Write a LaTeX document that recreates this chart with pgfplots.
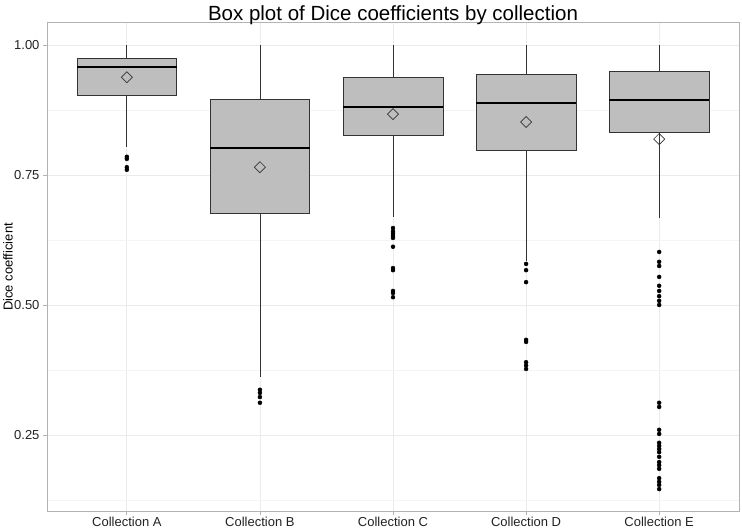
\documentclass[border=0pt]{standalone}
\usepackage{pgfplots}
\pgfplotsset{compat=1.18}
\usepgfplotslibrary{statistics}
\usepackage{fontspec}
\setmainfont{Liberation Sans}
\definecolor{boxgrey}{HTML}{BEBEBE}
\definecolor{edge}{HTML}{333333}
\definecolor{gridc}{HTML}{EBEBEB}
\definecolor{gridm}{HTML}{F4F4F4}
\definecolor{frame}{HTML}{B3B3B3}
\definecolor{txt}{HTML}{222222}
\begin{document}
\begin{tikzpicture}[x=1pt,y=1pt]
\begin{axis}[
  at={(0,0)}, anchor=south west,
  scale only axis, width=692pt, height=488.5pt,
  xmin=0.4, xmax=5.6, ymin=0.1033, ymax=1.0427,
  xtick={1,2,3,4,5},
  xticklabels={Collection A,Collection B,Collection C,Collection D,Collection E},
  ytick={0.25,0.5,0.75,1},
  yticklabels={0.25,0.50,0.75,1.00},
  minor ytick={0.125,0.375,0.625,0.875},
  minor tick length=0pt,
  major tick length=4pt,
  tick align=outside,
  tick style={frame, line width=0.8pt},
  xtick pos=bottom, ytick pos=left,
  grid=both,
  major grid style={gridc, line width=0.8pt},
  minor grid style={gridm, line width=0.5pt},
  axis line style={frame, line width=0.8pt},
  ticklabel style={font=\fontsize{13}{15}\selectfont, text=txt},
  xticklabel style={yshift=2pt},
  /pgf/number format/assume math mode=true,
  ylabel={Dice coefficient},
  ylabel style={at={(axis description cs:-0.0564,0.5)}, anchor=center, font=\fontsize{13}{15}\selectfont},
  title={Box plot of Dice coefficients by collection},
  title style={at={(axis description cs:0.5,1)}, anchor=base, yshift=-3.5pt, font=\fontsize{20.5}{22}\selectfont},
  boxplot/draw direction=y,
  boxplot/box extend=0.75,
  boxplot/whisker extend=0,
  boxplot/every box/.style={draw=edge, fill=boxgrey, line width=0.8pt},
  boxplot/every whisker/.style={draw=edge, line width=0.8pt},
  boxplot/every median/.style={draw=black, line width=1.8pt},
]
\addplot[mark=*, mark size=2pt, mark options={draw=black, fill=black}, boxplot prepared={draw position=1, lower whisker=0.804, lower quartile=0.904, median=0.958, upper quartile=0.975, upper whisker=1.0}]
  coordinates {(0,0.785) (0,0.781) (0,0.765) (0,0.760)};
\addplot[mark=*, mark size=2pt, mark options={draw=black, fill=black}, boxplot prepared={draw position=2, lower whisker=0.362, lower quartile=0.677, median=0.802, upper quartile=0.896, upper whisker=1.0}]
  coordinates {(0,0.337) (0,0.331) (0,0.323) (0,0.312)};
\addplot[mark=*, mark size=2pt, mark options={draw=black, fill=black}, boxplot prepared={draw position=3, lower whisker=0.669, lower quartile=0.827, median=0.881, upper quartile=0.938, upper whisker=1.0}]
  coordinates {(0,0.648) (0,0.642) (0,0.638) (0,0.633) (0,0.629) (0,0.612) (0,0.571) (0,0.567) (0,0.527) (0,0.523) (0,0.515)};
\addplot[mark=*, mark size=2pt, mark options={draw=black, fill=black}, boxplot prepared={draw position=4, lower whisker=0.585, lower quartile=0.798, median=0.888, upper quartile=0.944, upper whisker=1.0}]
  coordinates {(0,0.579) (0,0.567) (0,0.544) (0,0.433) (0,0.429) (0,0.390) (0,0.384) (0,0.377)};
\addplot[mark=*, mark size=2pt, mark options={draw=black, fill=black}, boxplot prepared={draw position=5, lower whisker=0.667, lower quartile=0.832, median=0.894, upper quartile=0.950, upper whisker=1.0}]
  coordinates {(0,0.602) (0,0.583) (0,0.575) (0,0.554) (0,0.537) (0,0.527) (0,0.517) (0,0.508) (0,0.500)
  (0,0.312) (0,0.304) (0,0.260) (0,0.252) (0,0.235) (0,0.229) (0,0.223) (0,0.217) (0,0.208)
  (0,0.198) (0,0.192) (0,0.185) (0,0.167) (0,0.160) (0,0.154) (0,0.146)};
\addplot[only marks, mark=square, mark size=3.9pt, mark options={rotate=45, draw=edge, fill=none, line width=0.7pt}]
  coordinates {(1,0.938) (2,0.765) (3,0.867) (4,0.852) (5,0.819)};
\end{axis}
\pgfresetboundingbox
\path (-47pt,-17.7pt) rectangle (695pt,511.3pt);
\end{tikzpicture}
\end{document}
